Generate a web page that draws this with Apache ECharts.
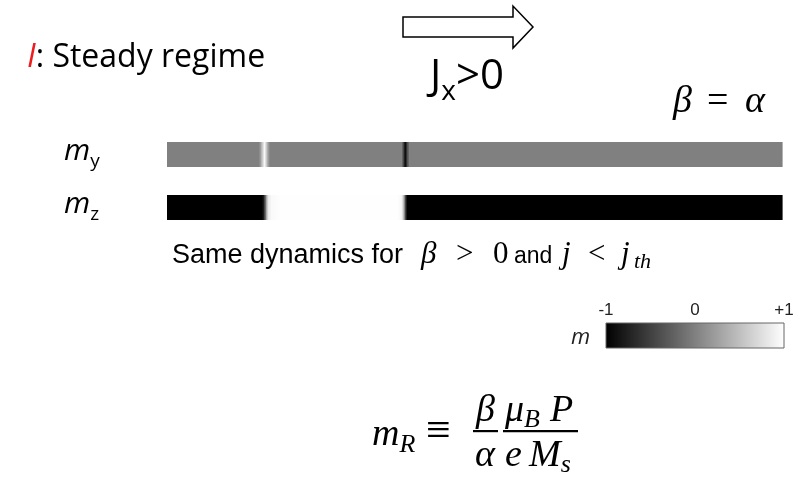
<!DOCTYPE html>
<html><head><meta charset="utf-8">
<script src="https://cdn.jsdelivr.net/npm/echarts@6/dist/echarts.min.js"></script>
<style>html,body{margin:0;padding:0;background:#fff}#chart{width:808px;height:483px}</style>
</head><body><div id="chart"></div>
<script>
// Magnetisation profiles along the wire: position (0..100) and reduced component value (-1..+1)
const myPos = [0, 14.9, 15.3, 15.8, 16.3, 16.7, 38.1, 38.4, 38.7, 39.0, 39.4, 100];
const myVal = [0, 0, 0.35, 1, 0.35, 0, 0, -0.45, -1, -0.45, 0, 0];
const mzPos = [0, 15.5, 15.8, 16.1, 16.4, 16.9, 18.5, 37.5, 38.1, 38.4, 38.7, 39.0, 100];
const mzVal = [-1, -1, -0.6, 0.2, 0.8, 0.95, 0.99, 0.99, 0.93, 0.55, -0.3, -1, -1];
// Colour scale of m
const scaleMin = -1;
const scaleMax = 1;

const SANS = "'Open Sans', sans-serif";
const ARIAL = "'Liberation Sans', Arial, sans-serif";
const MATH = "'Liberation Serif', serif";

function gray(v) {
  const g = Math.round((v - scaleMin) / (scaleMax - scaleMin) * 255);
  return 'rgb(' + g + ',' + g + ',' + g + ')';
}

function segments(pos, val) {
  const out = [];
  for (let i = 0; i < pos.length - 1; i++) out.push([pos[i], pos[i + 1], val[i], val[i + 1]]);
  return out;
}

function renderStrip(params, api) {
  const a = api.coord([api.value(0), 1]);
  const b = api.coord([api.value(1), 0]);
  return {
    type: 'rect',
    shape: { x: a[0], y: a[1], width: b[0] - a[0] + 0.6, height: b[1] - a[1] },
    style: {
      fill: new echarts.graphic.LinearGradient(0, 0, 1, 0, [
        { offset: 0, color: gray(api.value(2)) },
        { offset: 1, color: gray(api.value(3)) }
      ])
    }
  };
}

function renderColorbar(params, api) {
  const a = api.coord([api.value(0), 1]);
  const b = api.coord([api.value(1), 0]);
  return {
    type: 'rect',
    shape: { x: a[0], y: a[1], width: b[0] - a[0], height: b[1] - a[1] },
    style: {
      fill: new echarts.graphic.LinearGradient(0, 0, 1, 0, [
        { offset: 0, color: gray(scaleMin) },
        { offset: 0.5, color: gray((scaleMin + scaleMax) / 2) },
        { offset: 1, color: gray(scaleMax) }
      ]),
      stroke: '#666', lineWidth: 1
    }
  };
}

// Text runs laid out piece by piece on a common baseline (a piece may pin its own x)
const measureCtx = document.createElement('canvas').getContext('2d');
function fontStr(p) {
  return (p.italic ? 'italic ' : '') + (p.size) + 'px ' + p.family;
}
function run(x, base, pieces) {
  const els = [];
  let cx = x;
  pieces.forEach(p => {
    if (p.x != null) cx = p.x;
    cx += p.gap || 0;
    measureCtx.font = fontStr(p);
    const w = measureCtx.measureText(p.t).width;
    els.push({
      type: 'text', silent: true,
      style: {
        text: p.t, x: cx, y: base + (p.dy || 0) - 0.3 * p.size,
        fontSize: p.size, fontFamily: p.family, fontStyle: p.italic ? 'italic' : 'normal',
        fill: p.color || '#000', verticalAlign: 'middle', align: 'left'
      }
    });
    cx += w;
  });
  return els;
}

const graphics = [].concat(
  run(27, 67, [
    { t: 'I', size: 32, family: SANS, italic: true, color: '#ee1c1c' },
    { t: ': Steady regime', size: 32, family: SANS }
  ]),
  [{
    type: 'polygon', silent: true,
    shape: { points: [[403, 17], [513, 17], [513, 6], [533, 27], [513, 48], [513, 37], [403, 37]] },
    style: { fill: '#fff', stroke: '#000', lineWidth: 1.5 }
  }],
  run(430, 90, [
    { t: 'J', size: 42, family: SANS },
    { t: 'x', size: 28, family: SANS, dy: 10 },
    { t: '>0', size: 42, family: SANS }
  ]),
  run(673, 113, [
    { t: 'β', size: 38, family: MATH, italic: true },
    { t: '=', size: 38, family: MATH, x: 707 },
    { t: 'α', size: 38, family: MATH, italic: true, x: 745 }
  ]),
  run(64, 160, [
    { t: 'm', size: 30, family: SANS, italic: true },
    { t: 'y', size: 19, family: SANS, dy: 7 }
  ]),
  run(64, 213, [
    { t: 'm', size: 30, family: SANS, italic: true },
    { t: 'z', size: 19, family: SANS, dy: 7 }
  ]),
  run(172, 264, [
    { t: 'Same dynamics for', size: 27, family: ARIAL },
    { t: 'β', size: 31, family: MATH, italic: true, x: 421 },
    { t: '>', size: 31, family: MATH, x: 456 },
    { t: '0', size: 31, family: MATH, x: 493 },
    { t: 'and', size: 23, family: ARIAL, x: 514 },
    { t: 'j', size: 31, family: MATH, italic: true, x: 562 },
    { t: '<', size: 31, family: MATH, x: 588 },
    { t: 'j', size: 31, family: MATH, italic: true, x: 621 },
    { t: 'th', size: 22, family: MATH, italic: true, dy: 5, x: 634 }
  ]),
  run(571, 344, [
    { t: 'm', size: 22, family: SANS, italic: true, color: '#222' }
  ]),
  // m_R ≡ (β/α)(μ_B P / e M_s)
  run(372, 446, [
    { t: 'm', size: 38, family: MATH, italic: true },
    { t: 'R', size: 26, family: MATH, italic: true, dy: 7 },
    { t: '≡', size: 44, family: MATH, x: 426 }
  ]),
  run(476, 422, [{ t: 'β', size: 38, family: MATH, italic: true }]),
  run(475, 467, [{ t: 'α', size: 38, family: MATH, italic: true }]),
  [{ type: 'rect', silent: true, shape: { x: 473, y: 430, width: 25, height: 2.2 }, style: { fill: '#000' } },
   { type: 'rect', silent: true, shape: { x: 503, y: 430, width: 75, height: 2.2 }, style: { fill: '#000' } }],
  run(505, 422, [
    { t: 'μ', size: 38, family: MATH, italic: true },
    { t: 'B', size: 26, family: MATH, italic: true, dy: 6 },
    { t: 'P', size: 38, family: MATH, italic: true, x: 550 }
  ]),
  run(505, 467, [
    { t: 'e', size: 38, family: MATH, italic: true },
    { t: 'M', size: 38, family: MATH, italic: true, x: 529 },
    { t: 's', size: 26, family: MATH, italic: true, dy: 6 }
  ])
);

const chart = echarts.init(document.getElementById('chart'), null, { renderer: 'canvas' });
const hidden = { show: false };
chart.setOption({
  animation: false,
  backgroundColor: '#fff',
  grid: [
    { left: 167, top: 142, width: 615, height: 25 },
    { left: 167, top: 195, width: 615, height: 25 },
    { left: 606, top: 323, width: 178, height: 25 }
  ],
  xAxis: [
    { gridIndex: 0, type: 'value', min: 0, max: 100, show: false },
    { gridIndex: 1, type: 'value', min: 0, max: 100, show: false },
    {
      gridIndex: 2, type: 'value', min: scaleMin, max: scaleMax, interval: 1, position: 'top',
      axisLine: hidden, axisTick: hidden, splitLine: hidden,
      axisLabel: {
        margin: 4, fontSize: 17, color: '#222', fontFamily: ARIAL,
        formatter: v => (v > 0 ? '+' + v : String(v))
      }
    }
  ],
  yAxis: [
    { gridIndex: 0, type: 'value', min: 0, max: 1, show: false },
    { gridIndex: 1, type: 'value', min: 0, max: 1, show: false },
    { gridIndex: 2, type: 'value', min: 0, max: 1, show: false }
  ],
  series: [
    { type: 'custom', name: 'my', xAxisIndex: 0, yAxisIndex: 0, silent: true, renderItem: renderStrip, data: segments(myPos, myVal) },
    { type: 'custom', name: 'mz', xAxisIndex: 1, yAxisIndex: 1, silent: true, renderItem: renderStrip, data: segments(mzPos, mzVal) },
    { type: 'custom', name: 'scale', xAxisIndex: 2, yAxisIndex: 2, silent: true, renderItem: renderColorbar, data: [[scaleMin, scaleMax]] }
  ],
  graphic: graphics
});
</script></body></html>
